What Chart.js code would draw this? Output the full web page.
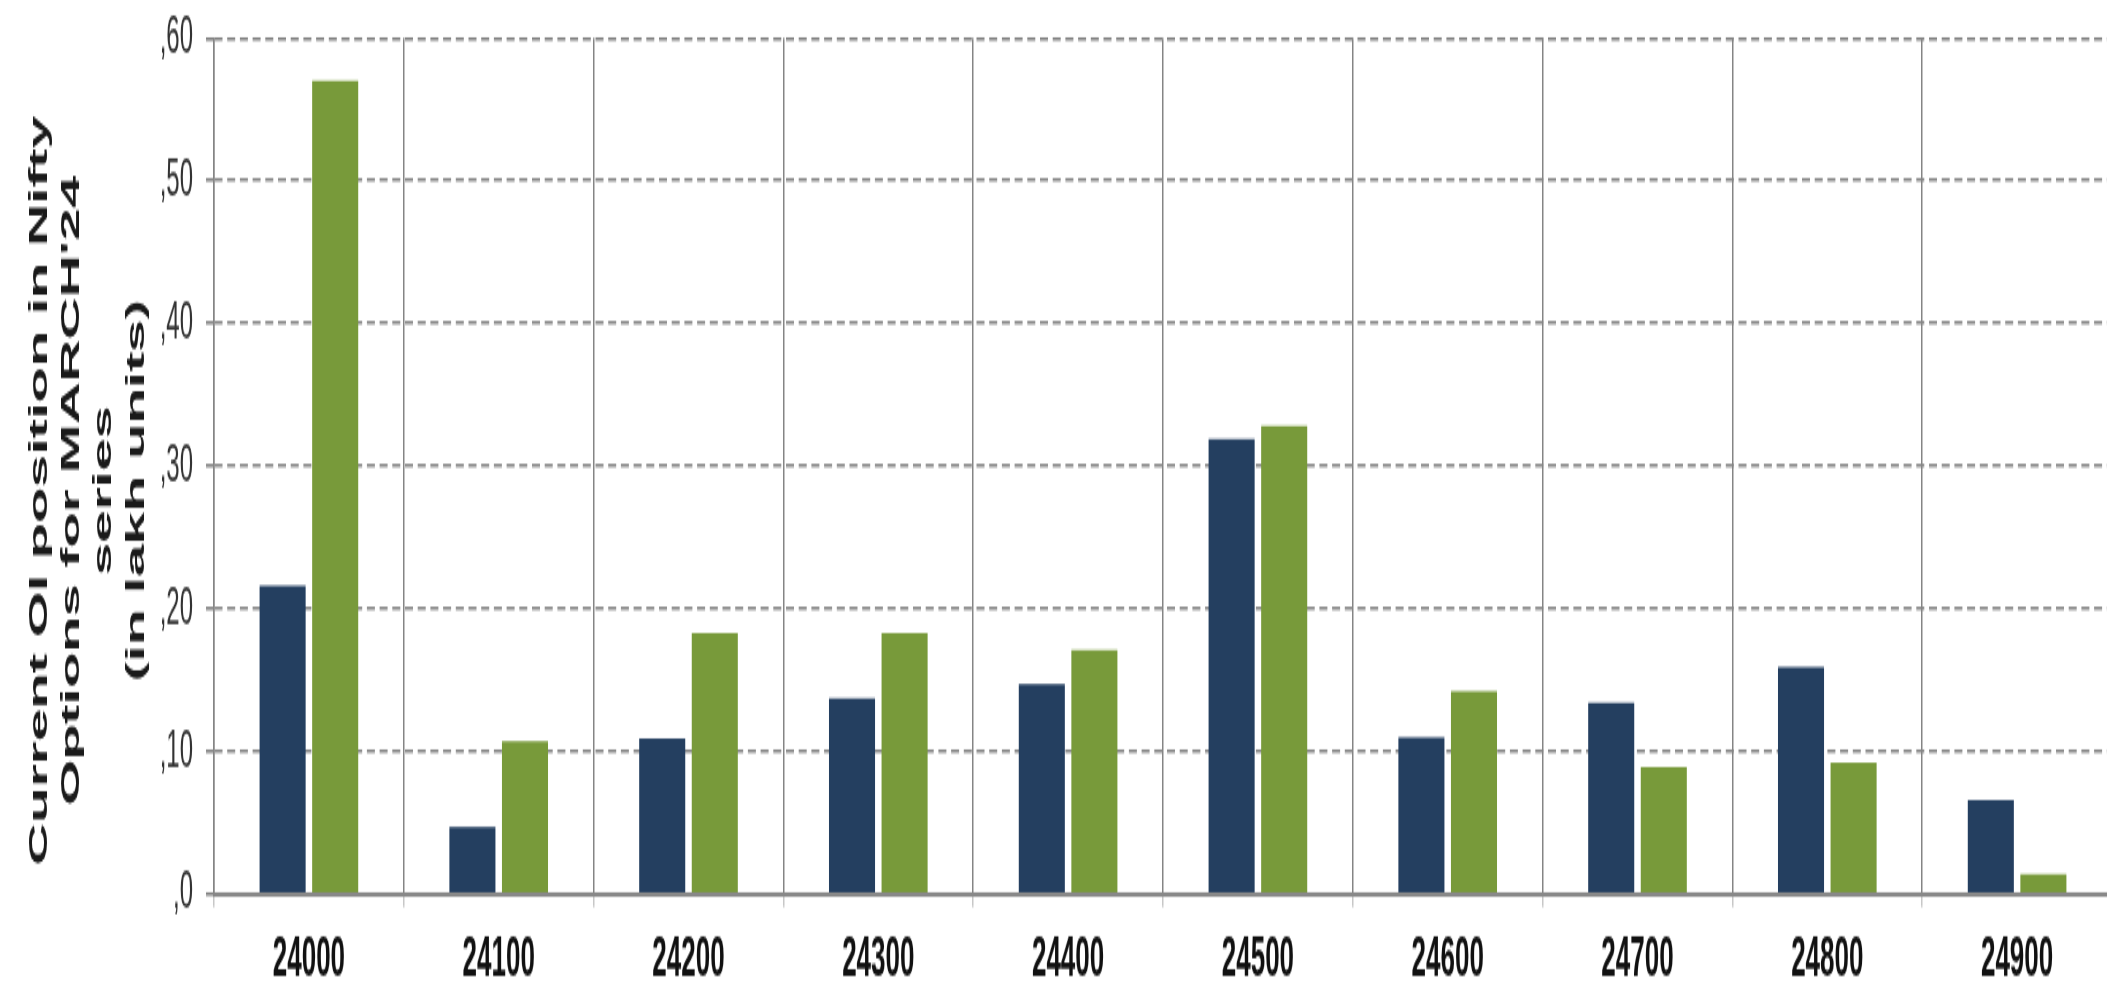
<!DOCTYPE html>
<html>
<head>
<meta charset="utf-8">
<title>Nifty Options OI – March'24 series</title>
<script src="https://cdn.jsdelivr.net/npm/chart.js@4.4.1/dist/chart.umd.min.js"></script>
<style>
  html, body { margin: 0; padding: 0; background: #ffffff; overflow: hidden; width: 2107px; height: 989px; }
  /* the chart is laid out at 450px tall and stretched vertically to fill the page */
  #wrap { position: absolute; left: 0; top: 0; width: 2112px; height: 450px;
          transform: scaleY(2.19778); transform-origin: 0 0; }
  canvas { display: block; }
</style>
</head>
<body>
<div id="wrap"><canvas id="oiChart" width="2112" height="450"></canvas></div>
<script>
// Strike prices on the category axis
const strikes = ['24000', '24100', '24200', '24300', '24400', '24500', '24600', '24700', '24800', '24900'];

// Open interest per strike, in lakh units
const navySeries  = [0.216, 0.047, 0.109, 0.137, 0.147, 0.319, 0.110, 0.134, 0.159, 0.066];
const greenSeries = [0.570, 0.107, 0.183, 0.183, 0.171, 0.328, 0.142, 0.089, 0.092, 0.014];

// Value-axis tick labels, one per 0.10 step from 0 to 0.60
const yTickLabels = [',0', ',10', ',20', ',30', ',40', ',50', ',60'];

const yAxisTitle = ['Current OI position in Nifty', "Options for MARCH'24", 'series', '(in lakh units)'];

const NAVY = '#243f60';
const GREEN = '#789a3a';
const GRID = '#858585';

// trailing spaces nudge the centred, rotated title block slightly downward
const titleLines = yAxisTitle.map((line) => line + '   ');

new Chart(document.getElementById('oiChart'), {
  type: 'bar',
  data: {
    labels: strikes,
    datasets: [
      { data: navySeries,  backgroundColor: NAVY,  borderWidth: 0 },
      { data: greenSeries, backgroundColor: GREEN, borderWidth: 0 }
    ]
  },
  options: {
    responsive: false,
    devicePixelRatio: 1,
    animation: false,
    events: [],
    categoryPercentage: 0.554,
    barPercentage: 0.876,
    layout: { padding: { top: 17.3, right: 0, bottom: 0, left: 0 } },
    plugins: {
      legend: { display: false },
      tooltip: { enabled: false }
    },
    scales: {
      x: {
        offset: true,
        grid: {
          display: true,
          offset: true,
          color: GRID,
          lineWidth: 1.5,
          drawTicks: true,
          tickLength: 6,
          tickColor: '#c8c8c8'
        },
        border: { display: true, color: '#888888', width: 1.9 },
        ticks: {
          color: '#111111',
          font: { family: "'Liberation Sans', Arial, sans-serif", size: 26, weight: 'bold' },
          padding: 8,
          maxRotation: 0,
          autoSkip: false
        },
        afterFit: (scale) => { scale.height = 43.2; }
      },
      y: {
        min: 0,
        max: 0.6,
        grid: {
          color: GRID,
          lineWidth: 1.6,
          drawTicks: true,
          tickLength: 8,
          tickColor: GRID
        },
        border: { display: true, color: GRID, width: 1.5, dash: [8, 4.7] },
        ticks: {
          stepSize: 0.1,
          color: '#333333',
          font: { family: "'Liberation Sans', Arial, sans-serif", size: 24 },
          padding: 13,
          callback: (value) => yTickLabels[Math.round(value * 10)]
        },
        title: {
          display: true,
          text: titleLines,
          color: '#1a1a1a',
          font: { family: "'Liberation Sans', Arial, sans-serif", size: 26.7, weight: 'bold', lineHeight: 1.2 },
          padding: { top: 24, bottom: 0 }
        },
        afterFit: (scale) => {
          scale.width = 214;
          // the plot area's top edge is fixed by the layout padding alone
          scale.paddingTop = 0;
          scale.paddingBottom = 0;
        }
      }
    }
  }
});
</script>
</body>
</html>
